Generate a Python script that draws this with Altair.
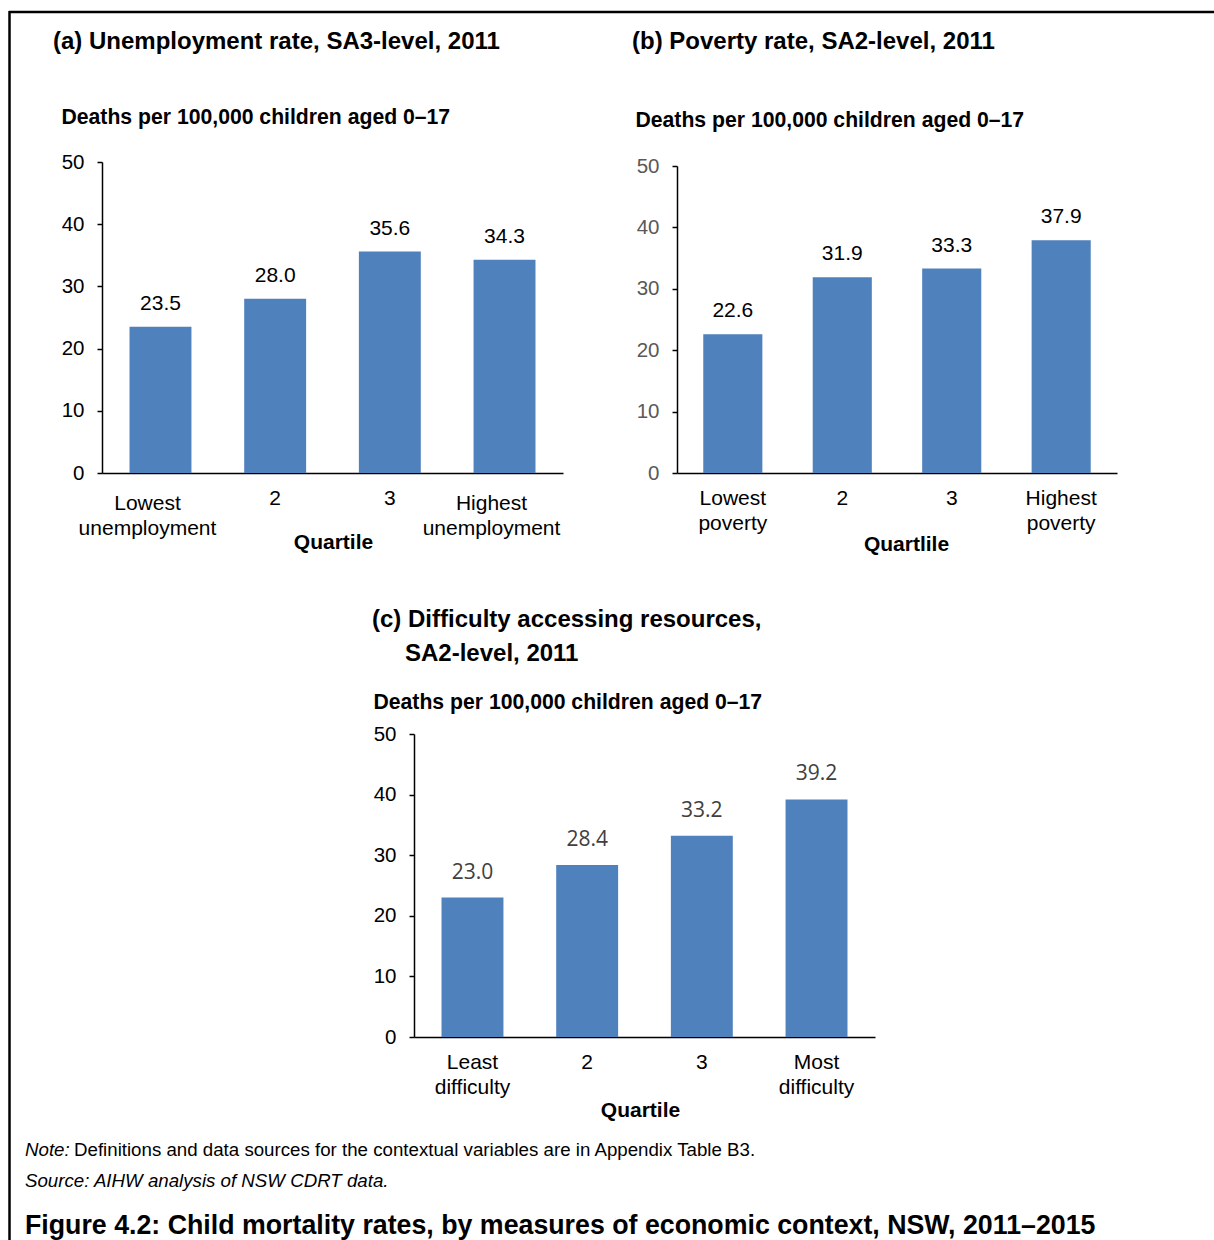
import altair as alt
import pandas as pd

# ---------------- data ----------------
cats_a = ["Lowest unemployment", "2", "3", "Highest unemployment"]
vals_a = [23.5, 28.0, 35.6, 34.3]
cats_b = ["Lowest poverty", "2", "3", "Highest poverty"]
vals_b = [22.6, 31.9, 33.3, 37.9]
cats_c = ["Least difficulty", "2", "3", "Most difficulty"]
vals_c = [23.0, 28.4, 33.2, 39.2]
y_ticks = [0, 10, 20, 30, 40, 50]

title_a = "(a) Unemployment rate, SA3-level, 2011"
title_b = "(b) Poverty rate, SA2-level, 2011"
title_c1 = "(c) Difficulty accessing resources,"
title_c2 = "SA2-level, 2011"
y_title = "Deaths per 100,000 children aged 0–17"
x_title_a = "Quartile"
x_title_b = "Quartlile"
x_title_c = "Quartile"
note_label = "Note:"
note_text = "Definitions and data sources for the contextual variables are in Appendix Table B3."
source_text = "Source: AIHW analysis of NSW CDRT data."
caption = "Figure 4.2: Child mortality rates, by measures of economic context, NSW, 2011–2015"

FONT = "Liberation Sans"
BLUE = "#4F81BD"
W, H = 1214, 1240


def panel(cats, vals, xr, yr, ytitle_pos, xtitle, xtitle_pos, tick_color,
          value_font, value_color, value_dy, wide_word=None):
    df = pd.DataFrame({"cat": cats, "val": vals,
                       "lab": [f"{v:.1f}" for v in vals]})
    extra = {}
    if wide_word:
        test = f"indexof(datum.value, '{wide_word}') >= 0"
        extra["labelOffset"] = alt.condition(test, alt.value(-13), alt.value(0))
        extra["labelPadding"] = alt.condition(test, alt.value(19), alt.value(14))
    else:
        extra["labelPadding"] = 14
    x = alt.X(
        "cat:N", sort=cats,
        scale=alt.Scale(range=xr, paddingInner=0.46, paddingOuter=0.24),
        axis=alt.Axis(
            orient="bottom", offset=yr[0] - H, ticks=False, tickSize=0,
            domainColor="#000000", domainWidth=1.5,
            labelAngle=0, labelExpr="split(datum.label, ' ')",
            labelFont=FONT, labelFontSize=21, labelColor="#000000",
            labelLineHeight=25,
            title=xtitle, titleFont=FONT, titleFontSize=21,
            titleFontWeight="bold", titleColor="#000000",
            titleX=xtitle_pos[0], titleY=xtitle_pos[1] - yr[0],
            titleBaseline="middle", titleAlign="center",
            **extra,
        ),
    )
    y = alt.Y(
        "val:Q",
        scale=alt.Scale(domain=[0, 50], range=yr, nice=False, zero=True),
        axis=alt.Axis(
            orient="left", offset=-xr[0], values=y_ticks, grid=False,
            domainColor="#000000", domainWidth=1.5,
            ticks=True, tickSize=5, tickColor="#000000", tickWidth=1.5,
            labelFont=FONT, labelFontSize=20.5, labelColor=tick_color,
            labelPadding=13,
            title=y_title, titleFont=FONT, titleFontSize=21.2,
            titleFontWeight="bold", titleColor="#000000", titleAngle=0,
            titleAlign="left", titleBaseline="middle",
            titleX=ytitle_pos[0] - xr[0], titleY=ytitle_pos[1],
        ),
    )
    bars = alt.Chart(df).mark_bar(color=BLUE).encode(x=x, y=y)
    labels = alt.Chart(df).mark_text(
        font=value_font, fontSize=21, color=value_color,
        baseline="middle", dy=value_dy,
    ).encode(x=x, y=y, text="lab:N")
    return alt.layer(bars, labels)


def note(text, xpos, ypos, size, weight="normal", style="normal"):
    d = pd.DataFrame({"t": [text]})
    return alt.Chart(d).mark_text(
        font=FONT, fontSize=size, fontWeight=weight, fontStyle=style,
        align="left", baseline="middle", color="#000000",
    ).encode(x=alt.value(xpos), y=alt.value(ypos), text="t:N")


blank = alt.Data(values=[{}])
border_top = alt.Chart(blank).mark_rule(color="#000000", strokeWidth=2.5).encode(
    x=alt.value(9), x2=alt.value(W), y=alt.value(12))
border_left = alt.Chart(blank).mark_rule(color="#000000", strokeWidth=2.5).encode(
    x=alt.value(9.5), y=alt.value(11), y2=alt.value(H))

pa = panel(cats_a, vals_a, [102, 563], [473, 162], (61, 117), x_title_a,
           (333, 542), "#000000", FONT, "#000000", -23, wide_word="unemployment")
pb = panel(cats_b, vals_b, [677, 1117], [473, 166], (635, 120), x_title_b,
           (906, 544), "#595959", FONT, "#000000", -23)
pc = panel(cats_c, vals_c, [414, 875], [1037, 734], (373, 702), x_title_c,
           (640, 1110), "#000000", "Open Sans", "#404040", -25)

texts = [
    note(title_a, 53, 42, 24, weight="bold"),
    note(title_b, 632, 42, 24, weight="bold"),
    note(title_c1, 372, 620, 24, weight="bold"),
    note(title_c2, 405, 654, 24, weight="bold"),
    note(note_label, 25, 1150, 18.7, style="italic"),
    note(note_text, 74, 1150, 18.7),
    note(source_text, 25, 1181, 18.7, style="italic"),
    note(caption, 25, 1226, 26.75, weight="bold"),
]

chart = alt.layer(border_top, border_left, *texts, pa, pb, pc).resolve_scale(
    x="independent", y="independent"
).properties(
    width=W, height=H, padding=0,
    autosize=alt.AutoSizeParams(type="none"),
).configure_view(strokeWidth=0)

chart.save("out.html", embed_options={"renderer": "svg", "actions": False})
